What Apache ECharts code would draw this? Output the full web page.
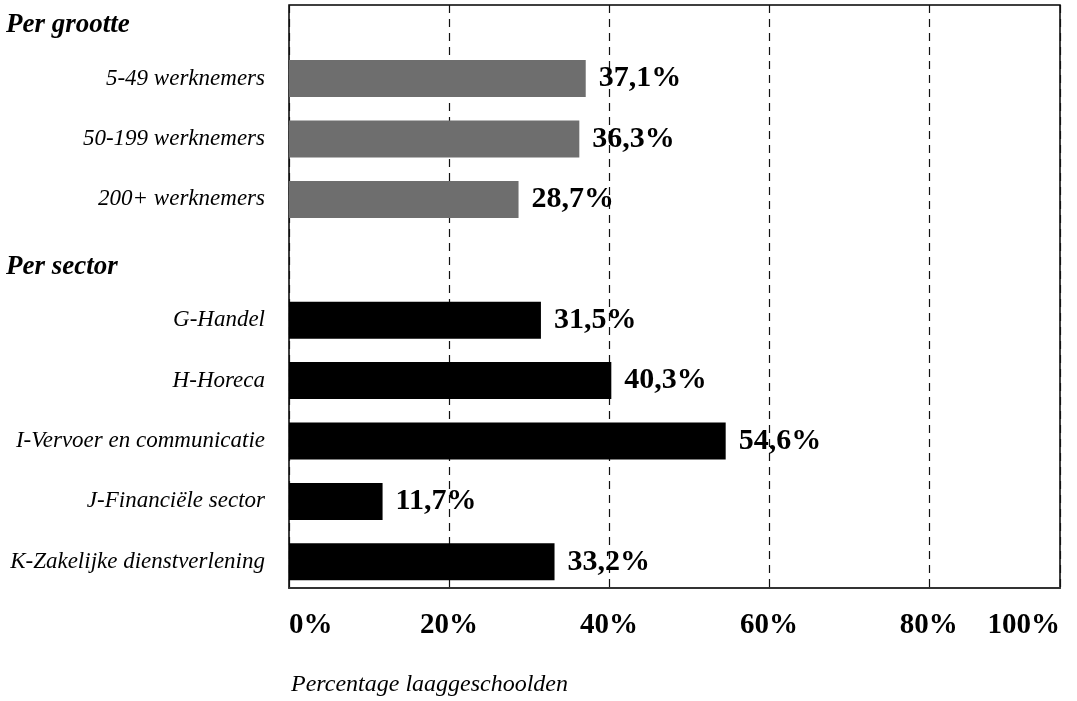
<!DOCTYPE html>
<html>
<head>
<meta charset="utf-8">
<script src="https://cdn.jsdelivr.net/npm/echarts@6/dist/echarts.min.js"></script>
<style>
  html, body { margin: 0; padding: 0; background: #fff; overflow: hidden; }
  /* shifted up a little so the first category band can start above the page edge */
  #chart { position: absolute; left: 0; top: -12px; width: 1077px; height: 713px; }
</style>
</head>
<body>
<div id="chart"></div>
<script>
  // data
  const headers = ['Per grootte', 'Per sector'];
  const sizeCats = ['5-49 werknemers', '50-199 werknemers', '200+ werknemers'];
  const sizeValues = [37.1, 36.3, 28.7];
  const sectorCats = ['G-Handel', 'H-Horeca', 'I-Vervoer en communicatie', 'J-Financiële sector', 'K-Zakelijke dienstverlening'];
  const sectorValues = [31.5, 40.3, 54.6, 11.7, 33.2];
  const tickLabels = ['0%', '20%', '40%', '60%', '80%', '100%'];
  const axisTitle = 'Percentage laaggeschoolden';

  const categories = [headers[0], ...sizeCats, headers[1], ...sectorCats];
  const greyData = categories.map(c => sizeCats.includes(c) ? sizeValues[sizeCats.indexOf(c)] : '-');
  const blackData = categories.map(c => sectorCats.includes(c) ? sectorValues[sectorCats.indexOf(c)] : '-');

  const serif = 'Liberation Serif';
  const xMax = 96.4; // the scanned axis runs out before 100%

  const valueLabel = {
    show: true,
    position: 'right',
    distance: 13,
    color: '#000',
    fontFamily: serif,
    fontWeight: 'bold',
    fontSize: 30,
    formatter: p => p.value.toFixed(1).replace('.', ',') + '%'
  };

  const chart = echarts.init(document.getElementById('chart'));
  chart.setOption({
    animation: false,
    backgroundColor: '#fff',
    title: {
      text: axisTitle,
      left: 286,
      top: 680,
      textStyle: { fontFamily: serif, fontStyle: 'italic', fontWeight: 'normal', fontSize: 24, color: '#000' }
    },
    grid: [
      { left: 289, width: 771, top: 0, height: 604, show: false },
      { left: 289, width: 771, top: 17, height: 583, show: true, borderColor: '#000', borderWidth: 1.5, backgroundColor: 'transparent' }
    ],
    xAxis: [
      { gridIndex: 0, type: 'value', min: 0, max: xMax, show: false },
      {
        gridIndex: 1, type: 'value', min: 0, max: xMax, interval: 20,
        axisLine: { show: true, lineStyle: { color: '#333', width: 2 } },
        axisTick: { show: false },
        splitLine: { show: true, lineStyle: { color: '#111', width: 1.2, type: [8, 6] } },
        axisLabel: {
          margin: 23,
          showMaxLabel: true,
          alignMinLabel: 'left',
          alignMaxLabel: 'right',
          color: '#000',
          fontFamily: serif,
          fontWeight: 'bold',
          fontSize: 29,
          formatter: (v, i) => tickLabels[i]
        }
      }
    ],
    yAxis: [
      {
        gridIndex: 0, type: 'category', inverse: true, data: categories,
        axisLine: { show: false }, axisTick: { show: false }, splitLine: { show: false },
        axisLabel: {
          margin: 24,
          color: '#000',
          fontFamily: serif,
          formatter: v => headers.includes(v) ? '{h|' + v + '}' : '{c|' + v + '}',
          rich: {
            h: { fontFamily: serif, fontWeight: 'bold', fontStyle: 'italic', fontSize: 27, width: 259, align: 'left', padding: [14, 0, 0, 0], color: '#000' },
            c: { fontFamily: serif, fontStyle: 'italic', fontSize: 23, color: '#000' }
          }
        }
      },
      { gridIndex: 1, type: 'value', show: false }
    ],
    series: [
      {
        type: 'bar', xAxisIndex: 0, yAxisIndex: 0,
        data: greyData, barWidth: 37, barGap: '-100%',
        itemStyle: { color: '#6e6e6e' },
        label: valueLabel
      },
      {
        type: 'bar', xAxisIndex: 0, yAxisIndex: 0,
        data: blackData, barWidth: 37, barGap: '-100%',
        itemStyle: { color: '#000' },
        label: valueLabel
      }
    ]
  });
</script>
</body>
</html>
